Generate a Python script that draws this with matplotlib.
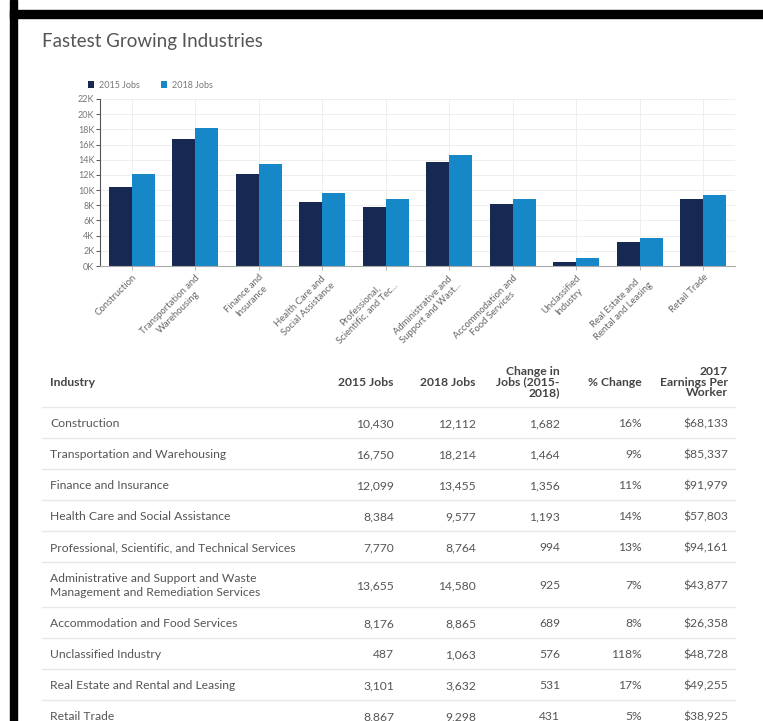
import numpy as np
import matplotlib.pyplot as plt
from matplotlib.patches import Rectangle
from matplotlib.lines import Line2D
from matplotlib.ticker import FuncFormatter

plt.rcParams['font.family'] = ['Lato', 'DejaVu Sans']

# chart data
short_labels = ['Construction', 'Transportation and\nWarehousing', 'Finance and\nInsurance',
                'Health Care and\nSocial Assistance', 'Professional,\nScientific, and Tec...',
                'Administrative and\nSupport and Wast...', 'Accommodation and\nFood Services',
                'Unclassified\nIndustry', 'Real Estate and\nRental and Leasing', 'Retail Trade']
industries = ['Construction', 'Transportation and Warehousing', 'Finance and Insurance',
              'Health Care and Social Assistance',
              'Professional, Scientific, and Technical Services',
              'Administrative and Support and Waste\nManagement and Remediation Services',
              'Accommodation and Food Services', 'Unclassified Industry',
              'Real Estate and Rental and Leasing', 'Retail Trade']
jobs_2015 = [10430, 16750, 12099, 8384, 7770, 13655, 8176, 487, 3101, 8867]
jobs_2018 = [12112, 18214, 13455, 9577, 8764, 14580, 8865, 1063, 3632, 9298]
change = [1682, 1464, 1356, 1193, 994, 925, 689, 576, 531, 431]
pct_change = [16, 9, 11, 14, 13, 7, 8, 118, 17, 5]
earnings = [68133, 85337, 91979, 57803, 94161, 43877, 26358, 48728, 49255, 38925]
headers = ['Industry', '2015 Jobs', '2018 Jobs', 'Change in\nJobs (2015-\n2018)',
           '% Change', '2017\nEarnings Per\nWorker']

dark = '#172853'
light = '#1688c8'
W, H = 763, 721


def fx(px):
    return px / W


def fy(py):
    return 1 - py / H


fig = plt.figure(figsize=(W / 100, H / 100), dpi=100)

# black frame on left and top
fig.patches.append(Rectangle((fx(10), 0), fx(7), 1, transform=fig.transFigure,
                             color='black', zorder=0))
fig.patches.append(Rectangle((fx(10), fy(18)), 1, fy(10) - fy(18), transform=fig.transFigure,
                             color='black', zorder=0))

fig.text(fx(42), fy(42), 'Fastest Growing Industries', fontsize=13.5, color='#555555',
         va='center', ha='left')

# bar chart
ax = fig.add_axes([fx(100), fy(266), fx(735) - fx(100), fy(99) - fy(266)])
x = np.arange(len(jobs_2015))
w = 0.36
ax.bar(x - w / 2, jobs_2015, w, color=dark, label='2015 Jobs', zorder=2)
ax.bar(x + w / 2, jobs_2018, w, color=light, label='2018 Jobs', zorder=2)
ax.set_xlim(-0.5, len(x) - 0.5)
ax.set_ylim(0, 22000)
ax.set_yticks(np.arange(0, 22001, 2000))
ax.yaxis.set_major_formatter(FuncFormatter(lambda v, p: f'{int(v / 1000)}K'))
ax.set_xticks(x)
ax.set_xticklabels(short_labels, rotation=45, ha='right', rotation_mode='anchor',
                   multialignment='center', fontsize=6.8, color='#666666', linespacing=1.25)
ax.tick_params(axis='y', labelsize=6.5, labelcolor='#777777', length=3, width=0.7,
               color='#555555', pad=1)
ax.tick_params(axis='x', length=3, width=0.6, color='#aaaaaa', pad=2)
ax.grid(True, color='#eeeeee', linewidth=0.7, zorder=0)
for s in ['top', 'right']:
    ax.spines[s].set_visible(False)
ax.spines['left'].set_color('#555555')
ax.spines['left'].set_linewidth(0.8)
ax.spines['bottom'].set_color('#aaaaaa')
ax.spines['bottom'].set_linewidth(0.8)

ax.legend(loc='center left', bbox_to_anchor=(fx(84), fy(85)), bbox_transform=fig.transFigure,
          ncol=2, frameon=False, fontsize=6.5, labelcolor='#777777', handlelength=0.75,
          handleheight=0.75, handletextpad=0.5, columnspacing=2.3, borderaxespad=0)

# table
col_right = [None, 394, 476, 560, 642, 728]
header_y = 382
row_y = [423, 454, 485, 516, 547, 585, 623, 654, 685, 716]
sep_y = [407, 438, 469, 500, 531, 562, 607, 638, 669, 700]
text_col = '#555555'
fs = 8.7

fig.text(fx(50), fy(header_y), headers[0], fontsize=fs, fontweight='bold', color='#444444',
         ha='left', va='center')
for c in range(1, 6):
    fig.text(fx(col_right[c]), fy(header_y), headers[c], fontsize=fs, fontweight='bold',
             color='#444444', ha='right', va='center', multialignment='right', linespacing=0.95)

for yy in sep_y:
    fig.lines.append(Line2D([fx(42), fx(735)], [fy(yy), fy(yy)], transform=fig.transFigure,
                            color='#e8e8e8', linewidth=1.0))

for i in range(len(industries)):
    base = row_y[i] + 4
    vals = [f'{jobs_2015[i]:,}', f'{jobs_2018[i]:,}', f'{change[i]:,}',
            f'{pct_change[i]}%', f'${earnings[i]:,}']
    lines = industries[i].split('\n')
    top = base - 7 * (len(lines) - 1)
    for k, line in enumerate(lines):
        fig.text(fx(50), fy(top + 14 * k), line, fontsize=fs, color=text_col,
                 ha='left', va='baseline')
    for c in range(1, 6):
        fig.text(fx(col_right[c]), fy(base), vals[c - 1], fontsize=fs, color=text_col,
                 ha='right', va='baseline')

fig.savefig('out.png', dpi=100)
